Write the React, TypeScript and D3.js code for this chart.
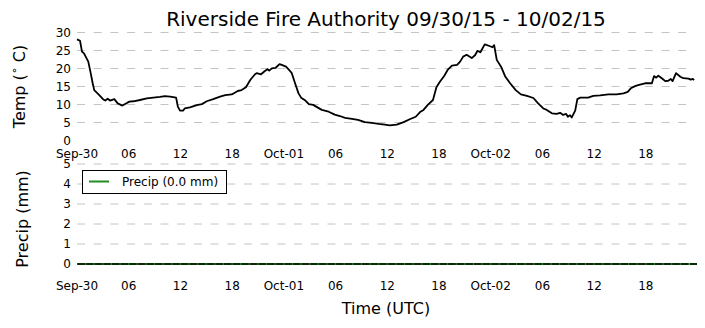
import React from "react";
import * as d3 from "d3";

const TITLE = "Riverside Fire Authority 09/30/15 - 10/02/15";

// hours since 2015-09-30 00:00 UTC
const tempHours = [
  0.0, 0.35, 0.58, 0.81, 1.31, 1.59, 1.82, 2.0, 2.47, 3.05, 3.28, 3.56, 3.83, 4.33, 4.72, 5.26, 5.69, 6.07, 6.54, 7.3,
  8.1, 8.86, 9.63, 10.2, 10.8, 11.5, 11.7, 11.95, 12.3, 12.5, 13.1, 13.9, 14.5, 15.05, 15.8, 16.6, 17.2, 17.95, 18.65,
  19.1, 19.6, 20.1, 20.65, 20.85, 21.35, 21.8, 22.1, 22.3, 22.6, 23.05, 23.5, 23.75, 24.25, 24.6, 24.9, 25.3, 25.7,
  26.0, 26.5, 26.9, 27.4, 27.9, 28.4, 29.2, 29.9, 30.5, 31.1, 31.9, 32.6, 33.4, 34.2, 35.0, 35.7, 36.3, 37.1, 37.9,
  38.6, 39.3, 39.8, 40.2, 40.7, 41.3, 41.7, 42.1, 42.6, 43.0, 43.5, 44.1, 44.45, 44.8, 45.2, 45.8, 46.2, 46.45, 46.8,
  47.3, 47.85, 48.2, 48.4, 48.7, 49.2, 49.7, 50.25, 50.9, 51.5, 52.2, 52.95, 53.5, 54.1, 54.5, 55.1, 55.65, 56.05,
  56.4, 56.75, 56.95, 57.2, 57.4, 57.8, 58.05, 58.4, 59.3, 59.9, 60.7, 61.65, 62.6, 63.4, 63.9, 64.25, 64.75, 65.1,
  65.9, 66.7, 66.95, 67.2, 67.45, 67.85, 68.25, 68.6, 68.9, 69.1, 69.5, 70.0, 70.35, 70.95, 71.2, 71.45, 71.6,
];
const tempValues = [
  28.1, 27.7, 24.7, 24.2, 21.9, 18.7, 15.9, 14.0, 12.9, 11.4, 11.1, 11.6, 11.1, 11.5, 10.3, 9.7, 10.3, 10.8, 10.9, 11.25,
  11.7, 11.9, 12.1, 12.3, 12.2, 11.9, 9.4, 8.3, 8.3, 8.9, 9.2, 9.8, 10.1, 10.9, 11.5, 12.2, 12.6, 12.8, 13.75,
  14.0, 14.8, 16.8, 18.4, 18.7, 18.4, 19.3, 19.8, 19.4, 20.05, 20.2, 21.2, 21.0, 20.5, 19.6, 18.8, 15.9, 13.1,
  11.9, 11.1, 10.1, 9.9, 9.2, 8.5, 8.0, 7.2, 6.8, 6.3, 6.0, 5.7, 5.1, 4.9, 4.6, 4.4, 4.2, 4.4, 5.1,
  5.9, 6.6, 7.9, 8.5, 9.9, 11.25, 14.8, 16.3, 17.9, 19.6, 20.8, 21.0, 21.9, 23.3, 23.8, 22.9, 23.75, 24.9, 24.5,
  26.7, 26.25, 25.9, 26.5, 22.4, 20.5, 17.7, 15.9, 14.0, 12.8, 12.4, 11.8, 10.3, 8.9, 8.5, 7.55, 7.4, 7.7,
  7.1, 7.4, 6.6, 7.0, 6.4, 8.3, 11.5, 11.9, 11.9, 12.4, 12.55, 12.8, 12.8, 13.1, 13.5, 14.5, 15.1, 15.4,
  15.9, 15.9, 17.9, 17.45, 18.0, 17.3, 16.5, 16.6, 17.1, 16.5, 18.7, 17.7, 17.3, 17.2, 16.9, 17.1, 16.8,
];

const precipHours = [
  0, 1, 2, 3, 4, 5, 6, 7, 8, 9, 10, 11, 12, 13, 14, 15, 16, 17, 18, 19, 20, 21, 22, 23,
  24, 25, 26, 27, 28, 29, 30, 31, 32, 33, 34, 35, 36, 37, 38, 39, 40, 41, 42, 43, 44, 45, 46, 47,
  48, 49, 50, 51, 52, 53, 54, 55, 56, 57, 58, 59, 60, 61, 62, 63, 64, 65, 66, 67, 68, 69, 70, 71,
];
const precipValues = [
  0, 0, 0, 0, 0, 0, 0, 0, 0, 0, 0, 0, 0, 0, 0, 0, 0, 0, 0, 0, 0, 0, 0, 0,
  0, 0, 0, 0, 0, 0, 0, 0, 0, 0, 0, 0, 0, 0, 0, 0, 0, 0, 0, 0, 0, 0, 0, 0,
  0, 0, 0, 0, 0, 0, 0, 0, 0, 0, 0, 0, 0, 0, 0, 0, 0, 0, 0, 0, 0, 0, 0, 0,
];
const precipTotal = "0.0";

const xTickHours = [0, 6, 12, 18, 24, 30, 36, 42, 48, 54, 60, 66];
const xTickLabels = ["Sep-30", "06", "12", "18", "Oct-01", "06", "12", "18", "Oct-02", "06", "12", "18"];
const tempTicks = [0, 5, 10, 15, 20, 25, 30];
const precipTicks = [0, 1, 2, 3, 4, 5];

const FONT = "DejaVu Sans, sans-serif";
const GRID = "#c4c4c4";

export default function App() {
  const x = d3.scaleLinear().domain([0, 71.7]).range([77, 695]);
  const yT = d3.scaleLinear().domain([0, 30]).range([140.5, 32.5]);
  const yP = d3.scaleLinear().domain([0, 5]).range([264, 164]);

  const tempLine = d3
    .line<number>()
    .x((_, i) => x(tempHours[i]))
    .y((d) => yT(d))(tempValues) as string;
  const precipLine = d3
    .line<number>()
    .x((_, i) => x(precipHours[i]))
    .y((d) => yP(d))(precipValues) as string;

  const [x0, x1] = x.range();

  return (
    <svg
      width={705}
      height={328}
      style={{ position: "absolute", left: 0, top: 0, background: "#fff" }}
      fontFamily={FONT}
    >
      <rect x={0} y={0} width={705} height={328} fill="#fff" />
      <text x={386} y={25.5} fontSize={20} textAnchor="middle" fill="#000">
        {TITLE}
      </text>

      {/* Temperature panel */}
      {tempTicks.filter((t) => t > 0).map((t) => (
        <line key={"tg" + t} x1={x0} x2={x1} y1={yT(t)} y2={yT(t)} stroke={GRID} strokeWidth={1} strokeDasharray="8,8.7" />
      ))}
      {tempTicks.map((t) => (
        <text key={"tt" + t} x={71} y={yT(t) + 4.3} fontSize={12} textAnchor="end" fill="#000">
          {t}
        </text>
      ))}
      <path d={tempLine} fill="none" stroke="#000" strokeWidth={1.8} strokeLinejoin="round" />
      {xTickHours.map((h, i) => (
        <text key={"xt1" + i} x={x(h)} y={158} fontSize={12} textAnchor="middle" fill="#000">
          {xTickLabels[i]}
        </text>
      ))}
      <text transform="translate(24.5,86.5) rotate(-90)" fontSize={16} textAnchor="middle" fill="#000">
        Temp (
        <tspan fontSize={11} dy={-7}>∘</tspan>
        <tspan dy={7}> C)</tspan>
      </text>

      {/* Precip panel */}
      {precipTicks.filter((t) => t > 0).map((t) => (
        <line key={"pg" + t} x1={x0} x2={x1} y1={yP(t)} y2={yP(t)} stroke={GRID} strokeWidth={1} strokeDasharray="8,8.7" />
      ))}
      {precipTicks.map((t) => (
        <text key={"pt" + t} x={71} y={yP(t) + 4.3} fontSize={12} textAnchor="end" fill="#000">
          {t}
        </text>
      ))}
      <path d={precipLine} fill="none" stroke="#228b22" strokeWidth={2} />
      {precipHours.map((h, i) => (
        <line
          key={"pb" + i}
          x1={x(h) + 0.5}
          x2={x(h + 1) - 0.6}
          y1={yP(precipValues[i])}
          y2={yP(precipValues[i])}
          stroke="#0a2a0a"
          strokeWidth={2}
        />
      ))}
      {xTickHours.map((h, i) => (
        <text key={"xt2" + i} x={x(h)} y={290} fontSize={12} textAnchor="middle" fill="#000">
          {xTickLabels[i]}
        </text>
      ))}
      <text transform="translate(28,219) rotate(-90)" fontSize={16} textAnchor="middle" fill="#000">
        Precip (mm)
      </text>
      <text x={386} y={313.5} fontSize={16} textAnchor="middle" fill="#000">
        Time (UTC)
      </text>

      {/* Legend */}
      <rect x={82.5} y={170.5} width={144} height={23} fill="#fff" stroke="#000" strokeWidth={1} />
      <line x1={89} x2={109} y1={181.5} y2={181.5} stroke="#228b22" strokeWidth={2} />
      <text x={122} y={186} fontSize={12} fill="#000">
        {`Precip (${precipTotal} mm)`}
      </text>
    </svg>
  );
}
